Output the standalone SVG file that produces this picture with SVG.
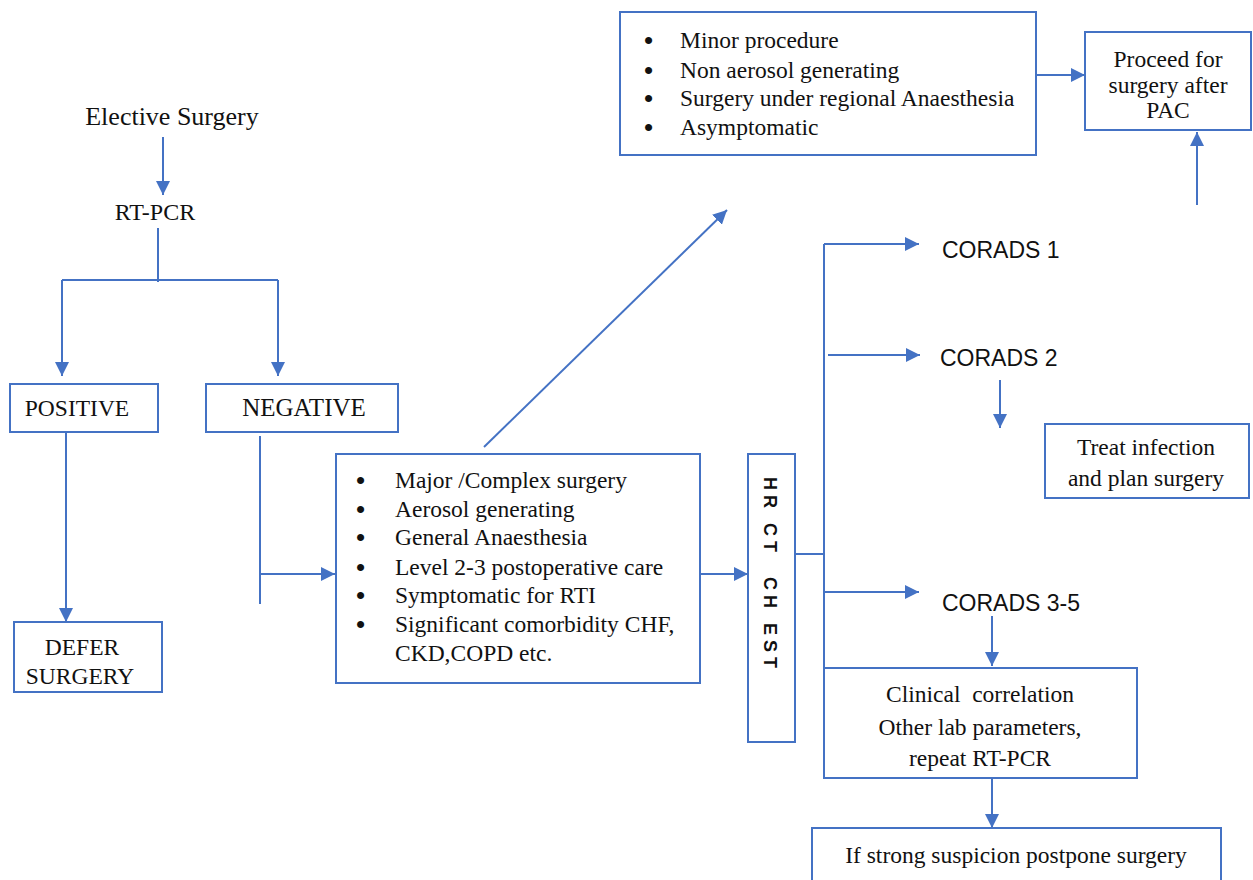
<svg xmlns="http://www.w3.org/2000/svg" width="1253" height="880" viewBox="0 0 1253 880">
<defs>
<marker id="ah" viewBox="0 0 10 10" refX="10" refY="5" markerWidth="14" markerHeight="14" markerUnits="userSpaceOnUse" orient="auto">
<path d="M0,0 L10,5 L0,10 z" fill="#4472C4"/>
</marker>
<style>
.box{fill:#fff;stroke:#4472C4;stroke-width:2}
.ln{fill:none;stroke:#4472C4;stroke-width:2}
.ar{fill:none;stroke:#4472C4;stroke-width:2;marker-end:url(#ah)}
.t{font-family:"Liberation Serif","Times New Roman",serif;font-size:23.5px;fill:#111;white-space:pre}
.s{font-family:"Liberation Sans",Arial,sans-serif;font-size:23px;fill:#111}
.m{text-anchor:middle}
.b{font-family:"Liberation Sans",Arial,sans-serif;font-size:18px;font-weight:bold;fill:#111;white-space:pre}
.bu{font-family:"Liberation Sans",Arial,sans-serif;font-size:26px;fill:#111}
</style>
</defs>
<rect width="1253" height="880" fill="#fff"/>
<g id="connectors">
<path class="ar" d="M163,137 V195"/>
<path class="ln" d="M158,228 V282"/>
<path class="ln" d="M62,280 H278"/>
<path class="ar" d="M62,280 V376"/>
<path class="ar" d="M278,280 V376"/>
<path class="ar" d="M66,432 V622"/>
<path class="ln" d="M260,436 V604"/>
<path class="ar" d="M260,574 H335"/>
<path class="ar" d="M484,447 L727,210"/>
<path class="ar" d="M1036,75 H1085"/>
<path class="ar" d="M1197,205 V132"/>
<path class="ar" d="M700,574 H748"/>
<path class="ln" d="M795,554 H824"/>
<path class="ln" d="M824,244 V668"/>
<path class="ar" d="M824,244 H919"/>
<path class="ar" d="M828,355 H920"/>
<path class="ar" d="M824,592 H919"/>
<path class="ar" d="M1000,380 V428"/>
<path class="ar" d="M992,616 V666"/>
<path class="ar" d="M992,778 V828"/>
</g>
<g id="elective"><text class="t m" x="172" y="125" style="font-size:26px">Elective Surgery</text></g>
<g id="rtpcr"><text class="t m" x="155" y="220" style="font-size:24px">RT-PCR</text></g>
<g id="positive"><rect class="box" x="10" y="384" width="148" height="48"/><text class="t m" x="77" y="416">POSITIVE</text></g>
<g id="negative"><rect class="box" x="206" y="384" width="192" height="48"/><text class="t m" x="304" y="416" style="font-size:25px">NEGATIVE</text></g>
<g id="defer"><rect class="box" x="14" y="622" width="148" height="70"/><text class="t m" x="82" y="655">DEFER</text><text class="t m" x="80" y="684">SURGERY</text></g>
<g id="major">
<rect class="box" x="336" y="454" width="364" height="229"/>
<g class="bu">
<text x="356" y="489">•</text><text x="356" y="518">•</text><text x="356" y="546">•</text><text x="356" y="576">•</text><text x="356" y="604">•</text><text x="356" y="633">•</text>
</g>
<g class="t">
<text x="395" y="488">Major /Complex  surgery</text>
<text x="395" y="517">Aerosol generating</text>
<text x="395" y="545">General Anaesthesia</text>
<text x="395" y="575">Level 2-3 postoperative  care</text>
<text x="395" y="603">Symptomatic  for RTI</text>
<text x="395" y="632">Significant comorbidity CHF,</text>
<text x="395" y="661">CKD,COPD etc.</text>
</g>
</g>
<g id="hrct"><rect class="box" x="748" y="454" width="47" height="288"/>
<text class="b" transform="translate(764,477) rotate(90)" letter-spacing="5">HR CT  CH EST</text></g>
<g id="minor">
<rect class="box" x="620" y="12" width="416" height="143"/>
<g class="bu">
<text x="644" y="49">•</text><text x="644" y="79">•</text><text x="644" y="107">•</text><text x="644" y="136">•</text>
</g>
<g class="t">
<text x="680" y="48">Minor procedure</text>
<text x="680" y="78">Non aerosol generating</text>
<text x="680" y="106">Surgery under regional  Anaesthesia</text>
<text x="680" y="135">Asymptomatic</text>
</g>
</g>
<g id="proceed"><rect class="box" x="1085" y="32" width="166" height="98"/>
<text class="t m" x="1168" y="67">Proceed for</text><text class="t m" x="1168" y="93">surgery after</text><text class="t m" x="1168" y="118">PAC</text></g>
<g id="corads1"><text class="s" x="942" y="258">CORADS 1</text></g>
<g id="corads2"><text class="s" x="940" y="366">CORADS 2</text></g>
<g id="treat"><rect class="box" x="1045" y="424" width="204" height="74"/>
<text class="t m" x="1146" y="455">Treat infection</text><text class="t m" x="1146" y="486">and plan surgery</text></g>
<g id="corads35"><text class="s" x="942" y="611">CORADS 3-5</text></g>
<g id="clinical"><rect class="box" x="824" y="668" width="313" height="110"/>
<text class="t m" x="980" y="702">Clinical  correlation</text><text class="t m" x="980" y="735">Other lab parameters,</text><text class="t m" x="980" y="766">repeat RT-PCR</text></g>
<g id="postpone"><rect class="box" x="812" y="828" width="409" height="60"/>
<text class="t m" x="1016" y="863">If strong suspicion postpone surgery</text></g>
</svg>
